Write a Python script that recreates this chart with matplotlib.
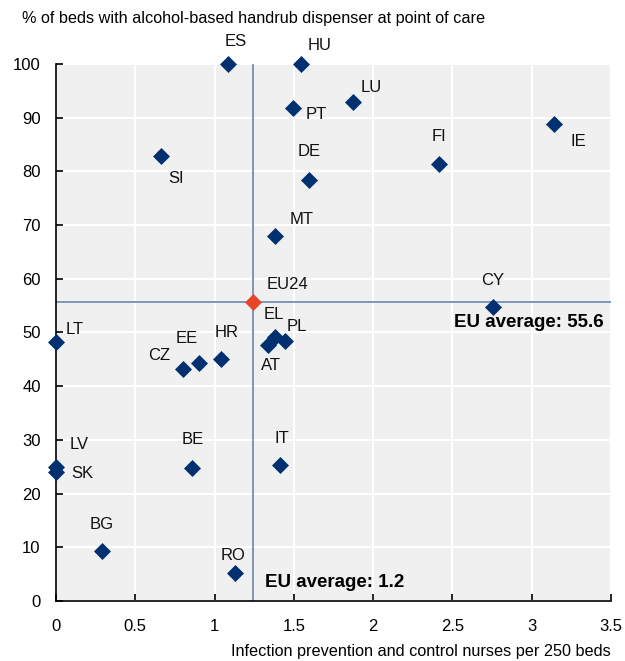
import matplotlib.pyplot as plt

plt.rcParams['font.family'] = ['Liberation Sans Narrow', 'Liberation Sans', 'DejaVu Sans']

countries = ['ES', 'HU', 'PT', 'LU', 'DE', 'MT', 'SI', 'FI', 'IE', 'CY', 'LT', 'EL', 'PL',
             'AT', 'HR', 'EE', 'CZ', 'LV', 'SK', 'BE', 'IT', 'BG', 'RO']
nurses = [1.085, 1.545, 1.494, 1.873, 1.595, 1.381, 0.662, 2.415, 3.14, 2.755, 0.0, 1.381, 1.444,
          1.337, 1.04, 0.90, 0.80, 0.0, 0.0, 0.857, 1.412, 0.29, 1.129]
handrub = [100, 100, 91.8, 92.9, 78.4, 68.0, 82.9, 81.4, 88.8, 54.7, 48.2, 49.2, 48.4,
           47.7, 45.1, 44.3, 43.2, 25.0, 24.0, 24.8, 25.3, 9.3, 5.2]
eu_nurses = 1.24
eu_handrub = 55.6

# label offsets in pixels (dx, dy), dy positive = up
offsets = {
    'ES': (8, 22), 'HU': (19, 18), 'PT': (23, -6), 'LU': (18, 15), 'DE': (0, 28),
    'MT': (27, 16), 'SI': (15, -23), 'FI': (0, 27), 'IE': (24, -17), 'CY': (0, 27),
    'LT': (19, 13), 'EL': (-1, 22), 'PL': (12, 15), 'AT': (3, -21), 'HR': (6, 26),
    'EE': (-12, 25), 'CZ': (-24, 13), 'LV': (23, 22), 'SK': (26, -1), 'BE': (1, 28),
    'IT': (2, 27), 'BG': (0, 27), 'RO': (-2, 18),
}

navy = '#00306f'
red = '#e8452c'
line_col = '#7490b5'
fs = 12

fig = plt.figure(figsize=(6.25, 6.61), dpi=100)
ax = fig.add_axes([0.0896, 0.0908, 0.888, 0.8124])
ax.set_facecolor('#f0f0f0')

ax.axhline(eu_handrub, color=line_col, lw=1.3, zorder=2)
ax.axvline(eu_nurses, color=line_col, lw=1.3, zorder=2)

ax.scatter(nurses, handrub, marker='D', s=75, color=navy, zorder=4, clip_on=False, lw=0)
ax.scatter([eu_nurses], [eu_handrub], marker='D', s=75, color=red, zorder=4, clip_on=False, lw=0)

for c, x, y in zip(countries, nurses, handrub):
    dx, dy = offsets[c]
    ax.annotate(c, (x, y), xytext=(dx, dy), textcoords='offset pixels',
                ha='center', va='center', fontsize=fs, color='#111111')
ax.annotate('EU24', (eu_nurses, eu_handrub), xytext=(35, 18), textcoords='offset pixels',
            ha='center', va='center', fontsize=fs, color='#111111')

ax.text(2.51, 51.8, 'EU average: 55.6', fontsize=13.5, fontweight='bold', ha='left', va='center')
ax.text(1.32, 3.5, 'EU average: 1.2', fontsize=13.5, fontweight='bold', ha='left', va='center')

ax.set_xlim(0, 3.5)
ax.set_ylim(0, 100)
ax.set_xticks([0, 0.5, 1, 1.5, 2, 2.5, 3, 3.5])
ax.set_xticklabels(['0', '0.5', '1', '1.5', '2', '2.5', '3', '3.5'])
ax.set_yticks(range(0, 101, 10))
ax.grid(True, color='white', lw=1.5, zorder=1)
ax.set_axisbelow(True)
for s in ['top', 'right']:
    ax.spines[s].set_visible(False)
for s in ['left', 'bottom']:
    ax.spines[s].set_color('black')
    ax.spines[s].set_linewidth(1.2)
ax.tick_params(direction='in', length=5, width=1.2, labelsize=fs)
ax.tick_params(axis='x', pad=13)
ax.tick_params(axis='y', pad=11)

fig.text(0.035, 0.972, '% of beds with alcohol-based handrub dispenser at point of care',
         fontsize=11.7, ha='left', va='center')
fig.text(0.9776, 0.015, 'Infection prevention and control nurses per 250 beds',
         fontsize=11.7, ha='right', va='center')

fig.savefig('out.png', dpi=100)
